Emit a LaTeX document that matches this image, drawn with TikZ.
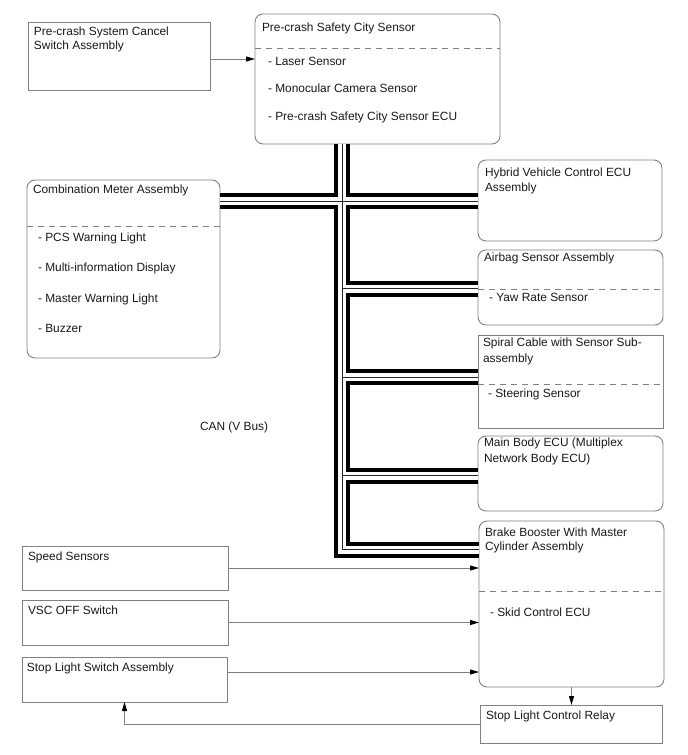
\documentclass[tikz,border=0pt]{standalone}
\usepackage{fontspec}
\setmainfont{Liberation Sans}
\usetikzlibrary{arrows.meta}
\definecolor{boxgray}{rgb}{0.5,0.5,0.5}
\begin{document}
\begin{tikzpicture}[x=1pt,y=-1pt,
  font=\fontsize{11.9}{14}\selectfont,
  box/.style={draw=boxgray, line width=0.9pt, anchor=north west, inner sep=0pt, outer sep=0pt},
  rbox/.style={box, rounded corners=8pt},
  txt/.style={anchor=base west, inner sep=0pt, outer sep=0pt, text=black!90},
  divider/.style={draw=boxgray, line width=0.8pt, dash pattern=on 6pt off 5pt},
  conn/.style={draw=boxgray, line width=0.9pt, -{Triangle[length=9pt,width=5pt,color=black]}},
  bus/.style={draw=black, line width=16pt, line join=miter, line cap=butt,
    postaction={draw=white, line width=8pt},
    postaction={draw=black!85, line width=0.8pt}}
]
\useasboundingbox (0,0) rectangle (688,755);

% bus junction coordinates
\coordinate (tk) at (342,0);
\coordinate (jA) at (342,288.5);
\coordinate (jS) at (342,377);
\coordinate (jM) at (342,475.5);
\coordinate (jB) at (342,549.5);
\coordinate (jH) at (342,201);

% boxes
\node[box,  minimum width=182pt, minimum height=68pt]  (pcs) at (28,22) {};
\node[rbox, minimum width=245pt, minimum height=130pt] (ps)  at (255,14) {};
\node[rbox, minimum width=193pt, minimum height=178pt] (cm)  at (27,180) {};
\node[rbox, minimum width=184pt, minimum height=81pt]  (hv)  at (478,160) {};
\node[rbox, minimum width=185pt, minimum height=75pt]  (ab)  at (478,250) {};
\node[box,  minimum width=185pt, minimum height=93pt]  (sp)  at (478,335) {};
\node[rbox, minimum width=185pt, minimum height=75pt]  (mb)  at (478,436) {};
\node[rbox, minimum width=185pt, minimum height=166pt] (bb)  at (479,521) {};
\node[box,  minimum width=182pt, minimum height=38pt]  (rl)  at (480,705) {};
\node[box,  minimum width=206pt, minimum height=44pt]  (ss)  at (22,546) {};
\node[box,  minimum width=206pt, minimum height=45pt]  (vsc) at (22,600) {};
\node[box,  minimum width=205pt, minimum height=45pt]  (sl)  at (22,657) {};

% CAN bus
\path[bus] (ps.south -| tk) -- (jB) -- (jB -| bb.west)
  (jH -| cm.east) -- (jH -| hv.west)
  (jA) -- (jA -| ab.west)
  (jS) -- (jS -| sp.west)
  (jM) -- (jM -| mb.west);

% dividers
\draw[divider] (ps.west |- 0,48) -- (ps.east |- 0,48);
\draw[divider] (cm.west |- 0,226) -- (cm.east |- 0,226);
\draw[divider] (ab.west |- 0,289) -- (ab.east |- 0,289);
\draw[divider] (sp.west |- 0,384) -- (sp.east |- 0,384);
\draw[divider] (bb.west |- 0,591) -- (bb.east |- 0,591);

% texts
\node[txt] (t1a) at (34,35) {Pre-crash System Cancel};
\node[txt] (t1b) at (34,49) {Switch Assembly};
\node[txt] (t2) at (262,31) {Pre-crash Safety City Sensor};
\node[txt] (t2a) at (268,65) {- Laser Sensor};
\node[txt] (t2b) at (268,92) {- Monocular Camera Sensor};
\node[txt] (t2c) at (268,120) {- Pre-crash Safety City Sensor ECU};
\node[txt] (t3) at (33,193) {Combination Meter Assembly};
\node[txt] (t3a) at (38,241) {- PCS Warning Light};
\node[txt] (t3b) at (38,271) {- Multi-information Display};
\node[txt] (t3c) at (38,302) {- Master Warning Light};
\node[txt] (t3d) at (38,332) {- Buzzer};
\node[txt] (t4a) at (485,176) {Hybrid Vehicle Control ECU};
\node[txt] (t4b) at (485,191) {Assembly};
\node[txt] (t5) at (484,261) {Airbag Sensor Assembly};
\node[txt] (t5a) at (489,301) {- Yaw Rate Sensor};
\node[txt] (t6a) at (483,346) {Spiral Cable with Sensor Sub-};
\node[txt] (t6b) at (483,362) {assembly};
\node[txt] (t6c) at (488,397) {- Steering Sensor};
\node[txt] (t7a) at (484,446) {Main Body ECU (Multiplex};
\node[txt] (t7b) at (484,462) {Network Body ECU)};
\node[txt] (t8a) at (485,536) {Brake Booster With Master};
\node[txt] (t8b) at (485,550) {Cylinder Assembly};
\node[txt] (t8c) at (490,616) {- Skid Control ECU};
\node[txt] (t9) at (486,719) {Stop Light Control Relay};
\node[txt] (t10) at (28,560) {Speed Sensors};
\node[txt] (t11) at (28,614) {VSC OFF Switch};
\node[txt] (t12) at (27,671) {Stop Light Switch Assembly};
\node[txt] (can) at (200,430) {CAN (V Bus)};

% connectors
\draw[conn] ([yshift=-3pt]pcs.east) -- ([yshift=-3pt]pcs.east -| ps.west);
\draw[conn] (ss.east) -- (ss.east -| bb.west);
\draw[conn] (vsc.east) -- (vsc.east -| bb.west);
\draw[conn] ([yshift=7.5pt]sl.east) -- ([yshift=7.5pt]sl.east -| bb.west);
\draw[conn] (bb.south) -- (bb.south |- rl.north);
\draw[conn] (rl.west) -| (sl.south);
\end{tikzpicture}
\end{document}
